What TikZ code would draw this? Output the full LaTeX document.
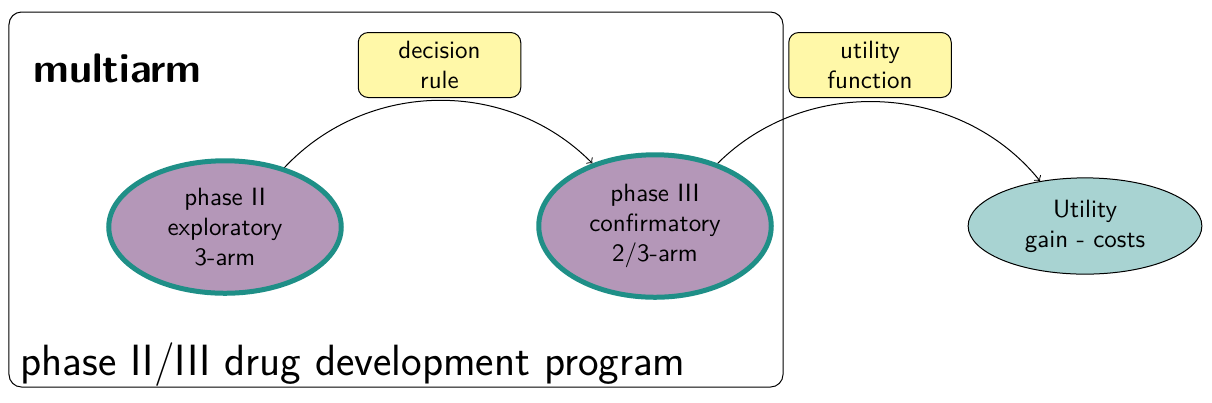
\documentclass[tikz,border=0pt]{standalone}
\usetikzlibrary{shapes.geometric}
\definecolor{phasefill}{HTML}{B497B8}
\definecolor{phaseline}{HTML}{1F8F87}
\definecolor{utilfill}{HTML}{A8D3D2}
\definecolor{rulefill}{HTML}{FFF8A8}
\begin{document}
\begin{tikzpicture}[x=0.4pt,y=-0.4pt,font=\sffamily,
  phase/.style={ellipse,draw=phaseline,line width=2pt,fill=phasefill,minimum width=93pt,minimum height=53pt,align=center,inner sep=0pt},
  util/.style={ellipse,draw=black,fill=utilfill,minimum width=93.5pt,minimum height=38.5pt,align=center,inner sep=0pt},
  rulebox/.style={draw=black,fill=rulefill,rounded corners=4pt,minimum width=65pt,minimum height=26pt,align=center,inner sep=0pt},
  label/.style={anchor=base west,inner sep=0pt},
  conn/.style={->,black}]
\useasboundingbox (0,0) rectangle (1212,402);
\node[draw=black,rounded corners=5pt,minimum width=309.6pt,minimum height=150pt,inner sep=0pt] (frame) at (396,199.5) {};
\node[label,font=\sffamily\bfseries\fontsize{16.5}{20}\selectfont] (title) at (33,82) {multiarm};
\node[label,font=\sffamily\fontsize{17.5}{21}\selectfont] (prog) at (20,375) {phase II/III drug development program};
\node[rulebox] (dr) at (439.5,65) {decision\\rule};
\node[rulebox] (uf) at (870,65) {utility\\function};
\node[phase] (p2) at (225,227) {phase II\\exploratory\\3-arm};
\node[phase,minimum height=57pt] (p3) at (655,226) {phase III\\confirmatory\\2/3-arm};
\node[util] (u) at (1085,226) {Utility\\gain - costs};
\draw[conn] (p2.45) to[bend left=46] (p3.135);
\draw[conn] (p3.45) to[bend left=48] (u.135);
\end{tikzpicture}
\end{document}
